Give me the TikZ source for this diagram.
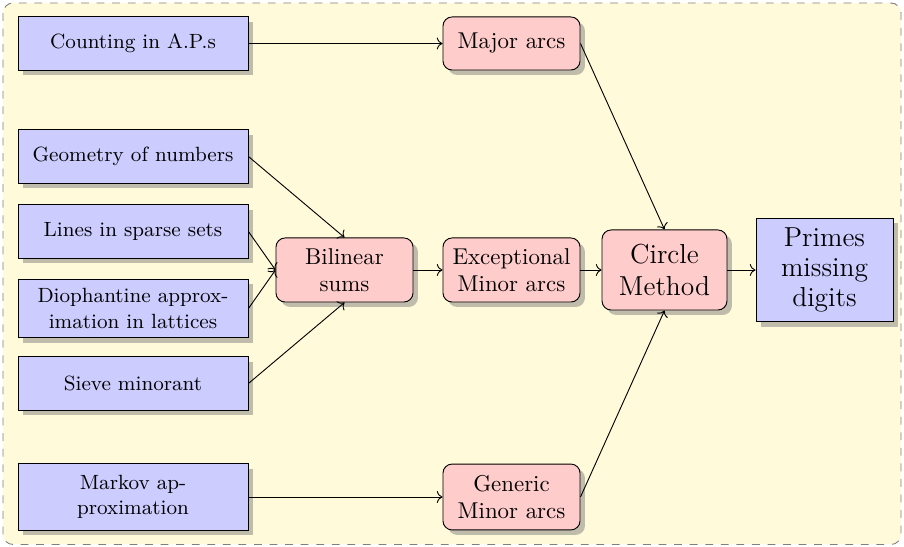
\documentclass[tikz,border=0pt]{standalone}
\usetikzlibrary{shadows,arrows.meta}
\definecolor{bgyellow}{RGB}{255,250,217}
\definecolor{boxblue}{RGB}{204,204,255}
\definecolor{boxpink}{RGB}{255,204,204}
\tikzset{
  bluebox/.style={draw=black, fill=boxblue, drop shadow, minimum width=100.5pt, minimum height=23.2pt, align=center, font=\small, inner sep=2pt},
  pinkbox/.style={draw=black, fill=boxpink, rounded corners=4pt, drop shadow, minimum width=59.9pt, align=center, inner sep=2pt},
  conn/.style={->, line width=0.4pt},
}
\begin{document}
\begin{tikzpicture}[x=0.437pt,y=-0.437pt]
\useasboundingbox (0,0) rectangle (904,547);
\draw[gray, dash pattern=on 3.4pt off 3.4pt, fill=bgyellow, rounded corners=4.4pt] (3,3) rectangle (901,544.5);
% blue input boxes
\node[bluebox] (cnt) at (133,43.5) {Counting in A.P.s};
\node[bluebox] (geo) at (133,156.5) {Geometry of numbers};
\node[bluebox] (lin) at (133,231.5) {Lines in sparse sets};
\node[bluebox, minimum height=25.5pt] (dio) at (133,308.5) {Diophantine approx-\\imation in lattices};
\node[bluebox] (sie) at (133,383.5) {Sieve minorant};
\node[bluebox, minimum height=29pt] (mar) at (133,497) {Markov ap-\\proximation};
% pink boxes
\node[pinkbox, minimum height=23.2pt] (maj) at (511.5,43.5) {Major arcs};
\node[pinkbox, minimum height=28pt] (bil) at (344.5,270) {Bilinear\\sums};
\node[pinkbox, minimum height=28pt] (exc) at (511.5,270) {Exceptional\\Minor arcs};
\node[pinkbox, minimum height=28.8pt] (gen) at (511.5,497) {Generic\\Minor arcs};
\node[pinkbox, minimum width=54.6pt, minimum height=35pt, font=\large] (cir) at (664.5,270) {Circle\\Method};
\node[bluebox, minimum width=59.9pt, minimum height=45.4pt, font={\fontsize{12}{13}\selectfont}] (pri) at (824.5,270) {Primes\\missing\\digits};
% connectors
\draw[conn] (cnt) -- (maj);
\draw[conn] (geo.east) -- (bil.north);
\draw[conn] (lin.east) -- (bil.west);
\draw[conn] (dio.east) -- (bil.west);
\draw[conn] (sie.east) -- (bil.south);
\draw[conn] (bil) -- (exc);
\draw[conn] (exc) -- (cir);
\draw[conn] (maj.east) -- (cir.north);
\draw[conn] (gen.east) -- (cir.south);
\draw[conn] (cir) -- (pri);
\draw[conn] (mar) -- (gen);
\end{tikzpicture}
\end{document}
